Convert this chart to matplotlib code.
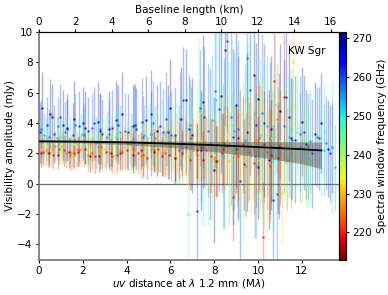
import matplotlib
matplotlib.use("Agg")
import matplotlib.pyplot as plt
from matplotlib import cm, colors

plt.rcParams['font.family'] = ['DejaVu Sans']
plt.rcParams['font.size'] = 7.5

# ---- data: per spectral window (GHz): uv distance (Mlambda), amplitude (mJy), error (mJy)
freq_270 = 270.5
uv_270 = [0.15, 0.6, 1.1, 1.6, 2.1, 2.7, 3.2, 3.8, 4.3, 4.9, 5.4, 6.0, 6.5, 7.0, 7.5, 8.0, 8.5, 9.0, 9.5, 10.0, 10.5, 11.0, 11.5, 12.0, 12.6, 13.2]
amp_270 = [5.0, 4.4, 3.9, 4.3, 3.7, 4.1, 3.6, 4.6, 3.8, 4.2, 3.5, 5.0, 4.3, 3.2, 5.4, 0.9, 8.8, 5.2, 3.4, 5.6, 1.6, 4.8, 3.0, 4.1, 3.3, 2.3]
err_270 = [2.4, 2.2, 2.3, 2.5, 2.4, 2.6, 2.5, 2.8, 2.7, 2.9, 3.0, 3.2, 3.4, 3.8, 4.4, 4.8, 5.0, 5.5, 5.2, 5.0, 4.6, 4.4, 4.0, 3.6, 3.4, 3.2]

freq_268 = 267.5
uv_268 = [0.5, 1.3, 2.0, 2.8, 3.5, 4.4, 5.1, 5.9, 6.7, 7.4, 8.3, 9.1, 9.8, 10.6, 11.4, 12.2, 12.9, 13.4]
amp_268 = [4.6, 3.7, 4.0, 3.5, 4.2, 3.9, 4.6, 3.4, 5.5, 2.2, 5.8, 3.0, 7.2, 3.6, 4.4, 2.6, 4.0, 2.4]
err_268 = [2.3, 2.2, 2.4, 2.5, 2.6, 2.7, 2.9, 3.1, 3.4, 4.0, 5.0, 5.4, 5.2, 4.8, 4.2, 3.6, 3.3, 3.0]

freq_262 = 262.0
uv_262 = [0.05, 0.35, 0.7, 0.95, 1.3, 1.55, 1.85, 2.25, 2.5, 2.9, 3.35, 3.6, 4.05, 4.45, 4.7, 5.1, 5.55, 5.8, 6.2, 6.6, 6.85, 7.2, 7.55, 7.8, 8.2, 8.6, 8.85, 9.2, 9.65, 9.9, 10.3, 10.7, 10.95, 11.3, 11.7, 12.1, 12.45, 12.8, 13.3]
amp_262 = [3.4, 3.9, 3.3, 4.4, 3.6, 3.2, 3.8, 3.5, 4.0, 3.3, 3.7, 3.9, 3.4, 3.6, 4.1, 3.3, 3.8, 4.3, 3.2, 5.5, 3.6, -1.8, 4.4, 2.6, 4.9, 9.4, 3.1, 0.2, 6.2, 3.9, 4.0, -1.1, 2.5, 5.7, 2.9, 3.4, 2.0, 3.0, 2.0]
err_262 = [2.0, 1.8, 1.9, 2.2, 2.0, 2.1, 2.3, 2.2, 2.4, 2.3, 2.5, 2.6, 2.5, 2.7, 2.9, 2.8, 3.0, 3.1, 3.2, 3.5, 3.6, 4.0, 4.6, 5.0, 5.4, 6.0, 5.8, 6.0, 5.6, 5.4, 5.2, 5.0, 4.8, 4.4, 4.2, 3.8, 3.6, 3.4, 3.2]

freq_258 = 258.0
uv_258 = [0.1, 0.45, 0.85, 1.2, 1.65, 2.05, 2.4, 2.8, 3.2, 3.55, 3.95, 4.35, 4.75, 5.2, 5.65, 6.05, 6.45, 6.95, 7.35, 7.7, 8.05, 8.45, 8.75, 9.1, 9.5, 9.85, 10.2, 10.55, 10.85, 11.2, 11.55, 11.9, 12.3, 12.7, 13.1]
amp_258 = [3.6, 3.1, 3.8, 3.4, 3.9, 3.2, 3.7, 3.6, 3.3, 4.2, 3.5, 3.9, 3.1, 4.0, 3.4, 3.2, 4.3, 3.0, 5.0, 3.5, 6.1, 2.7, 4.4, 3.6, 8.3, 1.8, 4.7, 3.0, -0.7, 3.8, 2.9, 3.3, 2.5, 3.1, 2.7]
err_258 = [1.9, 1.8, 1.9, 2.0, 2.1, 2.1, 2.2, 2.3, 2.3, 2.4, 2.5, 2.6, 2.7, 2.8, 2.9, 3.0, 3.1, 3.4, 3.8, 4.4, 5.0, 5.6, 5.8, 5.8, 5.6, 5.4, 5.2, 5.0, 4.8, 4.4, 4.0, 3.8, 3.5, 3.3, 3.1]

freq_254 = 254.0
uv_254 = [0.25, 0.8, 1.4, 2.0, 2.6, 3.1, 3.7, 4.2, 4.8, 5.3, 5.9, 6.4, 6.9, 7.4, 7.9, 8.4, 8.9, 9.4, 9.9, 10.4, 10.9, 11.4, 11.9, 12.4, 13.0, 13.5]
amp_254 = [3.2, 3.0, 2.9, 3.3, 2.7, 3.1, 3.4, 2.8, 3.2, 3.0, 3.5, 2.6, 3.9, 2.4, 4.2, 1.8, 3.5, 2.9, 1.2, 3.8, 2.2, 3.1, 2.4, 2.8, 2.2, 1.1]
err_254 = [1.5, 1.4, 1.5, 1.6, 1.7, 1.7, 1.8, 1.9, 2.0, 2.1, 2.3, 2.6, 3.0, 3.6, 4.2, 4.8, 5.2, 5.0, 4.8, 4.6, 4.2, 4.0, 3.6, 3.4, 3.0, 2.8]

freq_250 = 250.0
uv_250 = [0.3, 1.1, 1.9, 2.7, 3.5, 4.3, 5.1, 5.9, 6.7, 7.5, 8.1, 8.7, 9.5, 10.1, 10.7, 11.5, 12.2, 13.0, 13.4]
amp_250 = [3.0, 2.8, 3.2, 2.9, 3.1, 2.7, 3.3, 2.9, 3.6, 1.0, 5.5, 2.6, 4.0, 3.2, 1.5, 3.6, 2.0, 3.4, 2.4]
err_250 = [1.4, 1.4, 1.5, 1.6, 1.7, 1.8, 2.0, 2.3, 2.8, 3.8, 4.8, 5.4, 5.2, 5.0, 4.6, 4.0, 3.5, 3.2, 4.4]

freq_246 = 246.0
uv_246 = [0.4, 1.0, 1.7, 2.4, 3.0, 3.6, 4.3, 5.0, 5.6, 6.3, 6.8, 7.3, 7.7, 8.3, 8.8, 9.3, 9.8, 10.3, 10.8, 11.3, 11.8, 12.3, 12.9]
amp_246 = [2.9, 3.1, 2.7, 3.0, 2.8, 3.2, 2.6, 3.0, 3.3, 2.7, -2.0, 4.8, 2.6, 6.2, 3.9, 1.4, 4.4, 2.0, 5.2, 2.6, 3.4, 1.7, 2.2]
err_246 = [1.5, 1.4, 1.6, 1.6, 1.7, 1.8, 1.9, 2.1, 2.3, 2.7, 3.2, 4.8, 5.4, 5.6, 5.6, 5.4, 5.2, 5.0, 4.6, 4.2, 3.8, 3.4, 3.0]

freq_243 = 243.5
uv_243 = [0.7, 1.3, 2.1, 2.7, 3.3, 4.0, 4.7, 5.4, 6.1, 6.7, 7.2, 7.9, 8.5, 9.1, 9.6, 10.2, 10.8, 11.5, 12.1, 12.7]
amp_243 = [2.7, 2.9, 2.6, 2.8, 3.0, 2.5, 2.9, 2.7, 3.1, 2.4, 3.6, 1.5, 3.8, 2.2, 4.9, 2.5, 3.1, 1.9, 2.9, 3.2]
err_243 = [1.2, 1.3, 1.3, 1.4, 1.5, 1.5, 1.7, 1.9, 2.1, 2.5, 3.0, 3.8, 4.4, 4.8, 4.8, 4.6, 4.2, 3.8, 3.3, 3.0]

freq_240 = 240.0
uv_240 = [0.2, 0.9, 1.5, 2.2, 2.8, 3.4, 4.0, 4.6, 5.2, 5.8, 6.4, 7.0, 7.6, 8.2, 8.8, 9.4, 10.0, 10.6, 11.2, 11.8, 12.4]
amp_240 = [2.6, 2.4, 2.7, 2.3, 2.8, 2.5, 2.9, 2.4, 2.6, 2.8, 2.2, 2.9, 1.8, 3.5, 2.1, 3.4, 1.6, 3.0, 2.7, 3.7, 1.5]
err_240 = [1.1, 1.1, 1.2, 1.2, 1.3, 1.4, 1.4, 1.6, 1.7, 1.9, 2.1, 2.5, 3.0, 3.4, 3.8, 4.0, 4.0, 3.8, 3.5, 3.2, 3.0]

freq_235 = 235.0
uv_235 = [0.35, 0.95, 1.6, 2.3, 2.9, 3.5, 4.2, 4.9, 5.5, 6.1, 6.8, 7.4, 8.0, 8.6, 9.2, 9.8, 10.4, 11.0, 11.6, 12.2]
amp_235 = [2.5, 2.3, 2.6, 2.2, 2.4, 2.7, 2.1, 2.5, 2.3, 2.6, 2.0, 2.8, 1.9, 3.3, 1.7, 2.6, 0.9, 2.8, 4.0, 2.1]
err_235 = [1.0, 1.0, 1.1, 1.1, 1.2, 1.2, 1.3, 1.4, 1.6, 1.8, 2.0, 2.4, 2.8, 3.2, 3.6, 3.9, 4.0, 3.8, 3.6, 3.3]

freq_231 = 231.0
uv_231 = [0.1, 0.55, 1.05, 1.5, 2.0, 2.45, 2.95, 3.45, 3.9, 4.4, 4.85, 5.35, 5.85, 6.3, 6.8, 7.3, 7.75, 8.25, 8.7, 9.2, 9.7, 10.15, 10.65, 11.1, 11.6, 12.0]
amp_231 = [2.3, 2.1, 2.4, 2.0, 2.5, 2.2, 2.3, 1.9, 2.4, 2.1, 2.6, 2.0, 2.3, 2.7, 1.8, 2.5, 2.0, 3.0, 1.5, 2.9, 1.9, 2.6, 2.7, -0.6, 8.0, 1.6]
err_231 = [1.0, 1.0, 1.1, 1.1, 1.1, 1.2, 1.2, 1.3, 1.4, 1.4, 1.5, 1.6, 1.8, 2.0, 2.2, 2.4, 2.6, 3.0, 3.3, 3.6, 3.8, 3.8, 3.6, 3.4, 3.2, 3.0]

freq_228 = 228.5
uv_228 = [0.15, 0.6, 1.05, 1.45, 1.9, 2.35, 2.8, 3.3, 3.8, 4.25, 4.75, 5.2, 5.7, 6.2, 6.65, 7.15, 7.6, 8.1, 8.6, 9.05, 9.55, 10.05, 10.5, 11.0, 11.5]
amp_228 = [2.4, 2.2, 2.5, 2.1, 2.3, 2.6, 2.0, 2.4, 2.2, 2.5, 1.9, 2.4, 2.2, 1.8, 2.6, 2.0, 2.7, 1.6, 2.9, 1.8, 2.3, 3.1, 1.4, 2.6, 2.0]
err_228 = [1.0, 1.0, 1.0, 1.1, 1.1, 1.1, 1.2, 1.2, 1.3, 1.3, 1.4, 1.5, 1.6, 1.8, 2.0, 2.2, 2.4, 2.6, 2.9, 3.2, 3.5, 3.7, 3.8, 3.6, 3.4]

freq_226 = 226.0
uv_226 = [0.3, 0.75, 1.25, 1.75, 2.25, 2.7, 3.2, 3.7, 4.15, 4.65, 5.1, 5.6, 6.05, 6.55, 7.05, 7.5, 8.0, 8.45, 8.95, 9.45, 9.9, 10.4, 10.85, 11.35]
amp_226 = [2.2, 2.5, 2.0, 2.3, 1.9, 2.4, 2.1, 2.2, 2.6, 1.8, 2.3, 2.0, 2.5, 1.9, 2.2, 2.6, 1.7, 2.4, 2.0, 1.2, 2.9, 2.1, 4.3, 1.6]
err_226 = [1.0, 1.0, 1.0, 1.1, 1.1, 1.1, 1.2, 1.2, 1.3, 1.4, 1.4, 1.5, 1.7, 1.9, 2.1, 2.3, 2.5, 2.8, 3.1, 3.4, 3.6, 3.8, 3.6, 3.4]

freq_222 = 222.0
uv_222 = [0.4, 0.9, 1.4, 1.85, 2.4, 2.85, 3.35, 3.8, 4.3, 4.75, 5.25, 5.75, 6.2, 6.7, 7.2, 7.65, 8.15, 8.6, 9.1, 9.6, 10.05, 10.55, 11.0]
amp_222 = [2.0, 2.3, 1.9, 2.2, 2.0, 2.4, 1.8, 2.1, 2.3, 1.9, 2.2, 2.0, 1.7, 2.4, 1.9, 2.2, 1.5, 2.5, 1.8, 2.1, 3.0, 1.2, 2.4]
err_222 = [0.9, 0.9, 1.0, 1.0, 1.0, 1.1, 1.1, 1.2, 1.2, 1.3, 1.4, 1.5, 1.6, 1.8, 2.0, 2.2, 2.4, 2.6, 2.9, 3.2, 3.5, 3.7, 3.8]

freq_219 = 219.0
uv_219 = [0.2, 0.65, 1.15, 1.6, 2.1, 2.55, 3.05, 3.55, 4.0, 4.5, 4.95, 5.45, 5.95, 6.4, 6.9, 7.4, 7.85, 8.35, 8.85, 9.3, 9.8, 10.25, 10.75, 11.2]
amp_219 = [2.1, 1.9, 2.2, 2.0, 2.3, 1.8, 2.1, 1.9, 2.2, 2.0, 1.7, 2.3, 1.9, 2.2, 1.6, 2.4, 1.8, 2.0, -0.9, 2.6, 1.4, -3.5, 6.8, 5.7]
err_219 = [0.9, 0.9, 1.0, 1.0, 1.0, 1.1, 1.1, 1.2, 1.2, 1.3, 1.4, 1.5, 1.6, 1.8, 2.0, 2.2, 2.4, 2.6, 2.9, 3.2, 3.4, 3.6, 4.4, 4.2]

freq_216 = 216.0
uv_216 = [0.1, 0.85, 1.8, 2.75, 3.7, 4.65, 5.6, 6.55, 7.5, 8.4, 9.35, 10.3, 10.9]
amp_216 = [2.0, 1.9, 2.1, 1.8, 2.0, 2.2, 1.8, 2.0, 1.6, 2.3, 1.3, 2.6, 1.7]
err_216 = [0.9, 0.9, 1.0, 1.0, 1.1, 1.2, 1.3, 1.5, 1.9, 2.4, 3.0, 3.5, 3.6]

freq_214 = 213.5
uv_214 = [0.45, 1.35, 2.35, 3.3, 4.3, 5.25, 6.2, 7.2, 8.1, 9.0, 10.0, 10.6]
amp_214 = [2.0, 2.1, 1.8, 2.0, 1.9, 2.1, 1.7, 2.2, 1.5, 2.3, 1.1, 1.9]
err_214 = [0.9, 1.0, 1.0, 1.1, 1.2, 1.3, 1.5, 1.8, 2.3, 2.9, 3.4, 3.6]

# fitted model (mJy) and its uncertainty band
model_uv = [0.0, 2.0, 4.0, 6.0, 8.0, 10.0, 12.0, 12.9]
model_amp = [2.80, 2.78, 2.73, 2.65, 2.55, 2.42, 2.28, 2.20]
band_lo = [2.76, 2.70, 2.58, 2.40, 2.12, 1.78, 1.32, 1.00]
band_hi = [2.84, 2.84, 2.83, 2.82, 2.80, 2.79, 2.77, 2.76]

source_name = "KW Sgr"

spws = [
    (freq_214, uv_214, amp_214, err_214),
    (freq_216, uv_216, amp_216, err_216),
    (freq_219, uv_219, amp_219, err_219),
    (freq_222, uv_222, amp_222, err_222),
    (freq_226, uv_226, amp_226, err_226),
    (freq_228, uv_228, amp_228, err_228),
    (freq_231, uv_231, amp_231, err_231),
    (freq_235, uv_235, amp_235, err_235),
    (freq_240, uv_240, amp_240, err_240),
    (freq_243, uv_243, amp_243, err_243),
    (freq_246, uv_246, amp_246, err_246),
    (freq_250, uv_250, amp_250, err_250),
    (freq_254, uv_254, amp_254, err_254),
    (freq_258, uv_258, amp_258, err_258),
    (freq_262, uv_262, amp_262, err_262),
    (freq_268, uv_268, amp_268, err_268),
    (freq_270, uv_270, amp_270, err_270),
]

fig = plt.figure(figsize=(3.88, 2.95), dpi=100)
ax = fig.add_axes([0.1005, 0.12, 0.773, 0.771])
cax = fig.add_axes([0.8735, 0.12, 0.0195, 0.771])

cmap = plt.get_cmap('jet_r')
norm = colors.Normalize(vmin=213.0, vmax=271.5)

for f, uv, amp, err in sorted(spws, key=lambda s: -s[0]):
    c = cmap(norm(f))
    ax.errorbar(uv, amp, yerr=err, fmt='none', ecolor=c, elinewidth=1.0, alpha=0.3, zorder=2)
for f, uv, amp, err in sorted(spws, key=lambda s: -s[0]):
    c = cmap(norm(f))
    ax.plot(uv, amp, 's', ms=1.5, color=c, mec='none', alpha=0.9, zorder=3)

ax.fill_between(model_uv, band_lo, band_hi, color='0.3', alpha=0.45, lw=0, zorder=4)
ax.plot(model_uv, model_amp, color='k', lw=1.3, zorder=5)

ax.axhline(0, color='0.45', lw=0.9, zorder=1)
ax.set_xlim(0, 13.7)
ax.set_ylim(-5, 10)
ax.set_xticks([0, 2, 4, 6, 8, 10, 12])
ax.set_yticks([-4, -2, 0, 2, 4, 6, 8, 10])
ax.set_xlabel(r'$uv$ distance at $\lambda$ 1.2 mm (M$\lambda$)', labelpad=1)
ax.set_ylabel('Visibility amplitude (mJy)', labelpad=2)
for s in ['left', 'bottom']:
    ax.spines[s].set_color('0.45')
    ax.spines[s].set_linewidth(1.2)
ax.tick_params(length=2.5, pad=2)
ax.text(0.955, 0.915, source_name, transform=ax.transAxes, ha='right', va='center')

ax2 = ax.twiny()
ax2.set_xlim(0 * 1.2, 13.7 * 1.2)
ax2.set_xticks([0, 2, 4, 6, 8, 10, 12, 14, 16])
ax2.set_xlabel('Baseline length (km)', labelpad=3)
ax2.tick_params(length=2.5, pad=1)
for s in ['left', 'bottom', 'right']:
    ax2.spines[s].set_visible(False)

sm = cm.ScalarMappable(norm=norm, cmap=cmap)
cb = fig.colorbar(sm, cax=cax)
cb.set_ticks([220, 230, 240, 250, 260, 270])
cb.set_label('Spectral window frequency (GHz)', labelpad=3)
cb.ax.tick_params(length=2.5, pad=2)
cb.outline.set_linewidth(0.8)

fig.savefig('out.png', dpi=100)
